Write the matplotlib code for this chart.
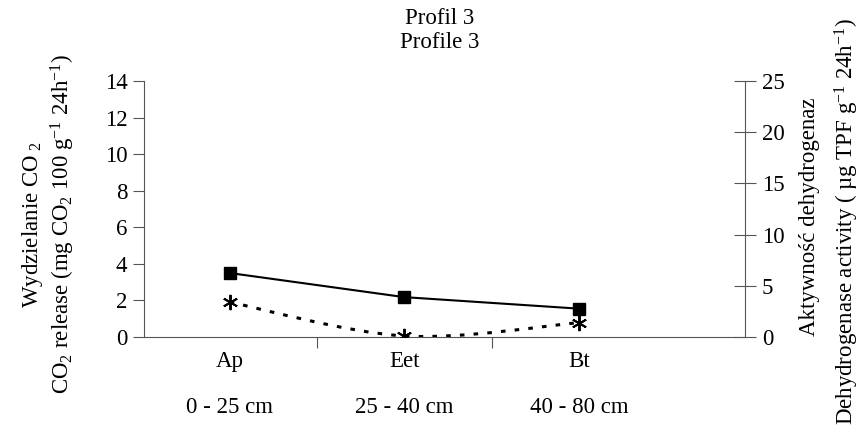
import matplotlib
matplotlib.use("Agg")
import matplotlib.pyplot as plt
from matplotlib.path import Path
from matplotlib.patches import PathPatch
import numpy as np

plt.rcParams['font.family'] = ['Liberation Serif', 'DejaVu Serif']
plt.rcParams['mathtext.fontset'] = 'custom'
plt.rcParams['mathtext.rm'] = 'Liberation Serif'
plt.rcParams['mathtext.it'] = 'Liberation Serif:italic'

horizons = ["Ap", "Eet", "Bt"]
depths = ["0 - 25 cm", "25 - 40 cm", "40 - 80 cm"]
co2_release = [3.5, 2.18, 1.55]
dehydrogenase = [3.4, 0.1, 1.4]

fs = 16.5
fig = plt.figure(figsize=(8.64, 4.36), dpi=100)
ax = fig.add_axes([144/864, 1-337/436, (745-144)/864, (337-81)/436])
ax2 = ax.twinx()

x = np.arange(len(horizons))
ax.plot(x, co2_release, color='black', lw=1.5, marker='s', ms=8, zorder=3)

# Excel-style smoothed line (Bezier through the data points)
pts = np.column_stack([x, dehydrogenase]).astype(float)
verts = [tuple(pts[0])]
codes = [Path.MOVETO]
n = len(pts)
for i in range(n - 1):
    p0 = pts[i - 1] if i > 0 else pts[i]
    p1 = pts[i]
    p2 = pts[i + 1]
    p3 = pts[i + 2] if i + 2 < n else pts[i + 1]
    c1 = p1 + (p2 - p0) / 6
    c2 = p2 - (p3 - p1) / 6
    verts += [tuple(c1), tuple(c2), tuple(p2)]
    codes += [Path.CURVE4] * 3
patch = PathPatch(Path(verts, codes), fill=False, edgecolor='black', lw=2.2,
                  linestyle=(0, (1.5, 3.0)), zorder=3)
ax2.add_patch(patch)
ax2.plot(x, dehydrogenase, linestyle='none', marker=(6, 2, 0), ms=11, mew=1.4,
         color='black', zorder=4)

ax.set_xlim(-0.49, 2.95)
ax.set_ylim(0, 14)
ax2.set_ylim(0, 25)
ax.set_yticks(range(0, 15, 2))
ax2.set_yticks(range(0, 26, 5))
ax.set_xticks([0.5, 1.5])
ax.set_xticklabels([])
ax.tick_params(axis='x', direction='out', length=8, color='#555555')
ax.tick_params(axis='y', direction='out', length=8, labelsize=fs, color='#555555', pad=4)
ax2.tick_params(axis='y', direction='inout', length=16, labelsize=fs, color='#555555', pad=4)

for a in (ax, ax2):
    a.spines['top'].set_visible(False)
    for s in ('left', 'right', 'bottom'):
        a.spines[s].set_color('#555555')
ax.spines['right'].set_visible(False)
ax2.spines['left'].set_visible(False)
ax2.spines['bottom'].set_visible(False)

for xi, h, d in zip(x, horizons, depths):
    ax.text(xi, -1.35, h, ha='center', va='center', fontsize=fs)
    ax.text(xi, -3.85, d, ha='center', va='center', fontsize=fs)

fig.text(440/864, 1 - 19/436, "Profil 3", ha='center', va='center', fontsize=fs)
fig.text(440/864, 1 - 42/436, "Profile 3", ha='center', va='center', fontsize=fs)

fig.text(33/864, 1 - 225/436, "Wydzielanie CO$_{\\ 2}$", rotation=90, ha='center', va='center', fontsize=fs)
fig.text(63/864, 1 - 224/436, "CO$_2$ release (mg CO$_2$ 100 g$^{-1}$ 24h$^{-1}$)", rotation=90,
         ha='center', va='center', fontsize=fs)
fig.text(810/864, 1 - 217/436, "Aktywność dehydrogenaz", rotation=90, ha='center', va='center', fontsize=fs)
fig.text(847/864, 1 - 222/436, "Dehydrogenase activity ( µg TPF g$^{-1}$ 24h$^{-1}$)", rotation=90,
         ha='center', va='center', fontsize=fs)

fig.savefig("out.png", dpi=100)
